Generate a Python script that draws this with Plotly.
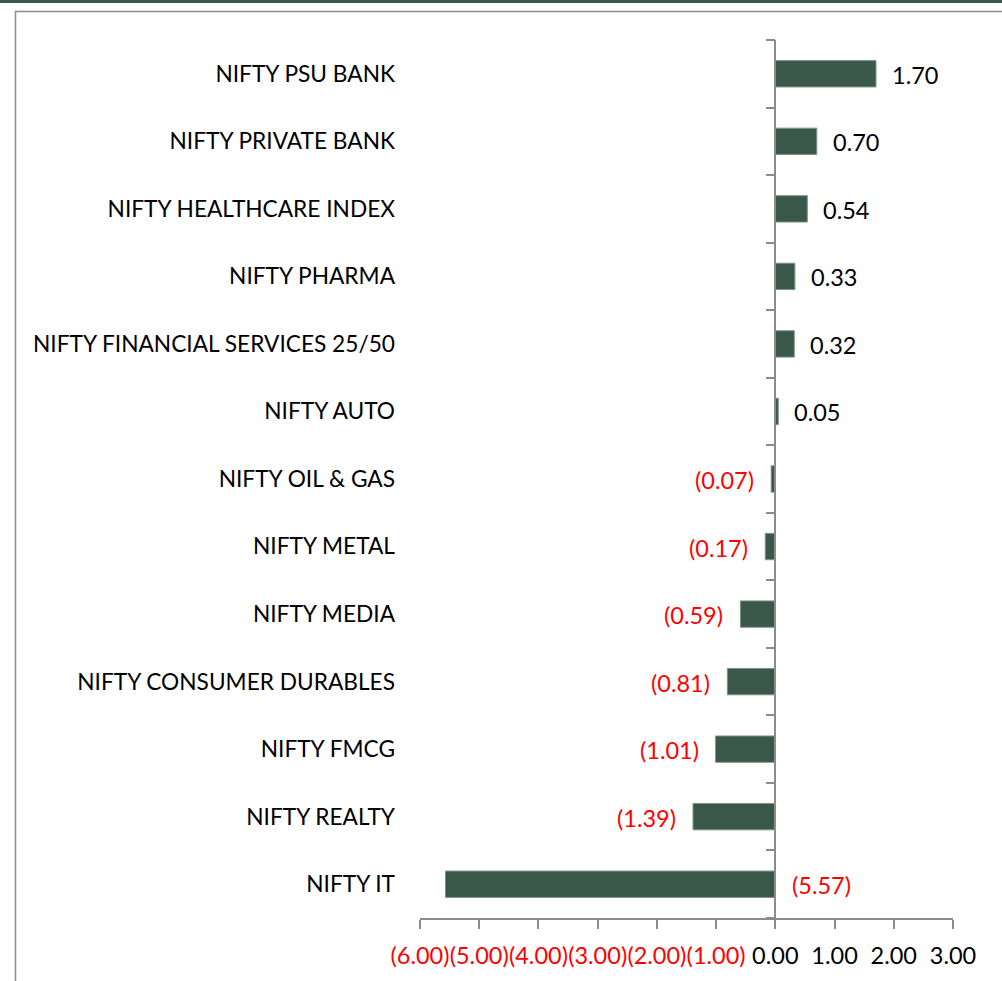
import plotly.graph_objects as go

categories = [
    "NIFTY PSU BANK", "NIFTY PRIVATE BANK", "NIFTY HEALTHCARE INDEX", "NIFTY PHARMA",
    "NIFTY FINANCIAL SERVICES 25/50", "NIFTY AUTO", "NIFTY OIL & GAS", "NIFTY METAL",
    "NIFTY MEDIA", "NIFTY CONSUMER DURABLES", "NIFTY FMCG", "NIFTY REALTY", "NIFTY IT",
]
values = [1.70, 0.70, 0.54, 0.33, 0.32, 0.05, -0.07, -0.17, -0.59, -0.81, -1.01, -1.39, -5.57]
x_ticks = [-6, -5, -4, -3, -2, -1, 0, 1, 2, 3]

# bottom-to-top order for plotting
cats_bt = categories[::-1]
vals_bt = values[::-1]

BAR = "#3A5849"
FONT = "Lato"
FS_CAT = 22.7
FS_NUM = 23.5

def fmt(v):
    return f"({abs(v):.2f})" if v < 0 else f"{v:.2f}"

tick_text = [f'<span style="color:red">{fmt(t)}</span>' if t < 0 else fmt(t) for t in x_ticks]

fig = go.Figure()
fig.add_trace(go.Bar(
    x=vals_bt, y=cats_bt, orientation="h",
    marker=dict(color=BAR, line=dict(color="#7d9488", width=1)),
    width=0.39, hoverinfo="skip",
))
# invisible trace to anchor the zero-line category axis
fig.add_trace(go.Scatter(x=vals_bt, y=cats_bt, yaxis="y2", mode="markers",
                         marker=dict(opacity=0), hoverinfo="skip", showlegend=False))

for c, v in zip(cats_bt, vals_bt):
    if v >= 0:
        fig.add_annotation(x=v, y=c, text=fmt(v), xanchor="left", xshift=14, yshift=-1,
                           showarrow=False, font=dict(color="black", size=FS_NUM, family=FONT))
    elif v < -5:
        fig.add_annotation(x=0, y=c, text=fmt(v), xanchor="left", xshift=15, yshift=-1,
                           showarrow=False, font=dict(color="red", size=FS_NUM, family=FONT))
    else:
        fig.add_annotation(x=v, y=c, text=fmt(v), xanchor="right", xshift=-15, yshift=-1,
                           showarrow=False, font=dict(color="red", size=FS_NUM, family=FONT))

W, H = 1002, 981
L, R, T, B = 420, 49, 40, 63
pw, ph = W - L - R, H - T - B

def px_x(p):
    return (p - L) / pw

def px_y(p):
    return 1 - (p - T) / ph

fig.update_layout(
    width=W, height=H,
    margin=dict(l=L, r=R, t=T, b=B, autoexpand=False),
    paper_bgcolor="white", plot_bgcolor="white",
    showlegend=False,
    font=dict(family=FONT, size=FS_CAT, color="black"),
    xaxis=dict(
        range=[-6, 3], tickvals=x_ticks, ticktext=tick_text, tickangle=0, automargin=False,
        showgrid=False, zeroline=False, showline=True, linecolor="#8c8c8c", linewidth=1.5,
        ticks="outside", ticklen=9, tickcolor="#8c8c8c", tickwidth=1.5,
        ticklabelstandoff=7,
        tickfont=dict(size=FS_NUM, family=FONT),
    ),
    yaxis=dict(
        type="category", categoryorder="array", categoryarray=cats_bt,
        range=[-0.5, len(cats_bt) - 0.5], automargin=False,
        showgrid=False, zeroline=False, showline=False, ticks="",
        ticklabelstandoff=24, tickfont=dict(size=FS_CAT, family=FONT),
    ),
    yaxis2=dict(
        type="category", categoryorder="array", categoryarray=cats_bt,
        overlaying="y", anchor="free", position=6 / 9, side="left", automargin=False,
        range=[-0.5, len(cats_bt) - 0.5],
        tickvals=[i - 0.5 for i in range(len(cats_bt) + 1)], showticklabels=False,
        showgrid=False, zeroline=False, showline=True, linecolor="#8c8c8c", linewidth=1.5,
        ticks="outside", ticklen=9, tickcolor="#8c8c8c", tickwidth=1.5,
    ),
    shapes=[
        dict(type="rect", xref="paper", yref="paper", x0=px_x(0), x1=px_x(W), y0=px_y(0), y1=px_y(3),
             fillcolor=BAR, line=dict(width=0), layer="above"),
        dict(type="line", xref="paper", yref="paper", x0=px_x(15), x1=px_x(W), y0=px_y(11.5), y1=px_y(11.5),
             line=dict(color="#8c8c8c", width=1.5)),
        dict(type="line", xref="paper", yref="paper", x0=px_x(15.5), x1=px_x(15.5), y0=px_y(11), y1=px_y(H),
             line=dict(color="#8c8c8c", width=1.5)),
    ],
)

fig.write_html("out.html", config={"displayModeBar": False},
               post_script="document.body.style.margin='0px';document.body.style.overflow='hidden';")
